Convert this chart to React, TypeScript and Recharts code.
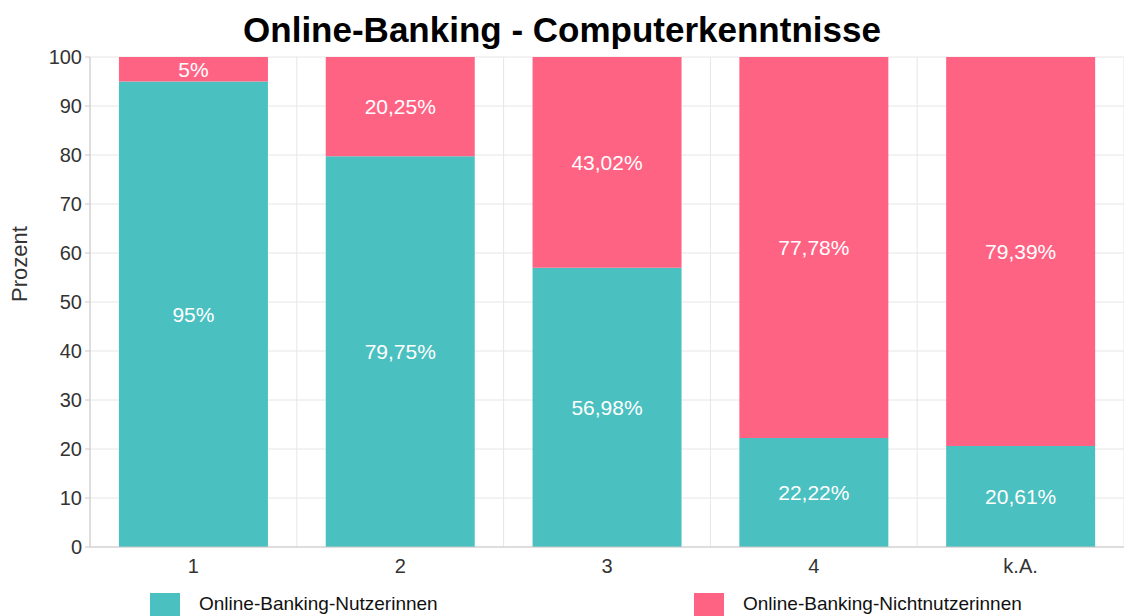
import {
  BarChart,
  Bar,
  XAxis,
  YAxis,
  CartesianGrid,
  LabelList,
} from "recharts";

const categories = ["1", "2", "3", "4", "k.A."];
const nutzerinnen = [95, 79.75, 56.98, 22.22, 20.61];
const nichtnutzerinnen = [5, 20.25, 43.02, 77.78, 79.39];
const yTicks = [0, 10, 20, 30, 40, 50, 60, 70, 80, 90, 100];

const series = [
  { key: "nutzer", name: "Online-Banking-Nutzerinnen", color: "#4BC0C0" },
  { key: "nicht", name: "Online-Banking-Nichtnutzerinnen", color: "#FF6384" },
];

const data = categories.map((c, i) => ({
  cat: c,
  nutzer: nutzerinnen[i],
  nicht: nichtnutzerinnen[i],
}));

const FONT = "'Liberation Sans', Arial, Helvetica, sans-serif";

const fmt = (v: any) => String(v).replace(".", ",") + "%";

// gridlines on the category boundaries, like chart.js
const boundaryLines = ({ offset }: any) =>
  categories.concat([""]).map((_, i) => offset.left + (i * offset.width) / categories.length);

export default function App() {
  return (
    <div style={{ position: "absolute", left: 0, top: 0, width: 1124, height: 616, fontFamily: FONT, background: "#fff" }}>
      <div
        style={{
          position: "absolute",
          top: 10,
          left: 0,
          width: 1124,
          textAlign: "center",
          fontSize: 35,
          fontWeight: "bold",
          color: "#000",
          lineHeight: "40px",
        }}
      >
        Online-Banking - Computerkenntnisse
      </div>
      <BarChart
        width={1124}
        height={616}
        data={data}
        margin={{ top: 57, right: 0, left: 0, bottom: 39 }}
        barCategoryGap="14%"
        style={{ fontFamily: FONT }}
      >
        <CartesianGrid stroke="#e6e6e6" verticalCoordinatesGenerator={boundaryLines} />
        <XAxis
          dataKey="cat"
          stroke="#c8c8c8"
          tickLine={false}
          tickSize={8}
          tickMargin={4}
          tick={{ fill: "#333", fontSize: 20 }}
        />
        <YAxis
          width={90}
          domain={[0, 100]}
          ticks={yTicks}
          interval={0}
          stroke="#c8c8c8"
          tickSize={5}
          tickMargin={3}
          tick={{ fill: "#333", fontSize: 20 }}
          label={{ value: "Prozent", angle: -90, position: "insideLeft", dx: 14, fill: "#333", fontSize: 22 }}
        />
        {series.map((s) => (
          <Bar key={s.key} dataKey={s.key} name={s.name} stackId="a" fill={s.color} isAnimationActive={false}>
            <LabelList dataKey={s.key} position="center" formatter={fmt} fill="#fff" fontSize={21} />
          </Bar>
        ))}
      </BarChart>
      {series.map((s, i) => (
        <div
          key={s.key}
          style={{
            position: "absolute",
            left: i === 0 ? 150 : 694,
            top: 593,
            display: "flex",
            alignItems: "flex-start",
            fontSize: 19,
            color: "#111",
          }}
        >
          <span style={{ display: "inline-block", width: 30, height: 23, background: s.color }} />
          <span style={{ marginLeft: 19, lineHeight: "22px", marginTop: 0 }}>{s.name}</span>
        </div>
      ))}
    </div>
  );
}
